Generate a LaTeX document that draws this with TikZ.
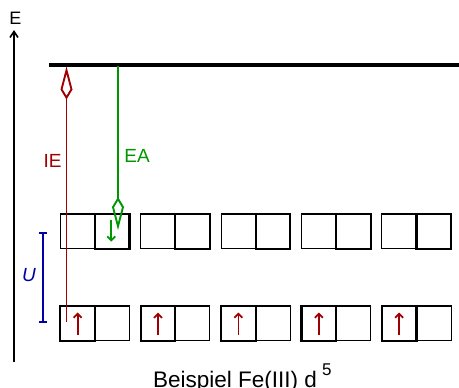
\documentclass[tikz,border=0pt]{standalone}
\usepackage{fontspec}
\setmainfont{Liberation Sans}
\usetikzlibrary{arrows.meta}
\definecolor{dred}{RGB}{160,0,0}
\definecolor{dgreen}{RGB}{0,150,0}
\definecolor{dblue}{RGB}{0,0,165}
\begin{document}
\begin{tikzpicture}[x=1pt,y=-1pt,
  thinbox/.style={draw=black,line width=1.1pt,minimum width=34.6pt,minimum height=34.6pt,inner sep=0pt,outer sep=0pt,anchor=north west},
  thickbox/.style={thinbox,line width=2.2pt},
  spinup/.style={dred,line width=1.8pt,-{Straight Barb[length=4pt,width=8pt]}},
  spindown/.style={dgreen,line width=1.8pt,-{Straight Barb[length=4pt,width=8pt]}},
  kitetip/.style={-{Kite[open,length=33pt,width=12pt,inset=10pt]}},
  lbl/.style={font=\fontsize{19}{22}\selectfont,inner sep=0pt}]
\useasboundingbox (0,0) rectangle (459,388);
% energy axis
\coordinate (axb) at (14,362);
\coordinate (axt) at (14,30);
\draw[line width=1.6pt,-{Straight Barb[length=6pt,width=8pt]}] (axb) -- (axt);
\node[font=\fontsize{18}{20}\selectfont,inner sep=0pt] (E) at (15.5,18.5) {E};
% vacuum level bar
\coordinate (barl) at (49,65);
\coordinate (barr) at (459,65);
\draw[line width=3.3pt] (barl) -- (barr);
% boxes
\foreach \i in {0,...,4}{
  \pgfmathsetmacro{\xa}{60.3+80.4*\i}
  \pgfmathsetmacro{\xb}{\xa+34.6}
  \node[thinbox] (ua\i) at (\xa,214) {};
  \node[thickbox] (ub\i) at (\xb,214) {};
  \node[thinbox] (lb\i) at (\xb,306) {};
  \node[thickbox] (la\i) at (\xa,306) {};
  \draw[spinup] ([yshift=6pt]la\i.south) -- ([yshift=-6.5pt]la\i.north);
}
% IE
\coordinate (iebot) at (66.5,322);
\coordinate (ietop) at (66.5,66.5);
\draw[dred,line width=1.9pt,kitetip] (iebot) -- (ietop);
\node[lbl,text=dred] (IE) at (52.5,160.5) {IE};
% EA
\coordinate (eatop) at (118,66);
\coordinate (eabot) at (118,230);
\draw[dgreen,line width=1.9pt,kitetip] (eatop) -- (eabot);
\node[lbl,text=dgreen] (EA) at (137,156) {EA};
\draw[spindown] ([xshift=-1pt,yshift=-6pt]ub0.north) -- ([xshift=-1pt,yshift=7pt]ub0.south);
% U bracket
\coordinate (ut) at (43.3,232.7);
\coordinate (ub) at (43.3,321.7);
\draw[dblue,line width=1.9pt] (ut) -- (ub);
\draw[dblue,line width=1.9pt] ([xshift=-4pt]ut) -- ([xshift=4pt]ut);
\draw[dblue,line width=1.9pt] ([xshift=-4pt]ub) -- ([xshift=4pt]ub);
\node[lbl,text=dblue,font=\fontsize{19}{22}\selectfont\itshape] (U) at (29,275.5) {U};
% caption
\node[font=\fontsize{22.5}{24}\selectfont,inner sep=0pt,anchor=base west] (cap) at (153,387) {Beispiel Fe(III) d\hspace{5pt}\raisebox{12pt}{\fontsize{17}{19}\selectfont 5}};
\end{tikzpicture}
\end{document}
